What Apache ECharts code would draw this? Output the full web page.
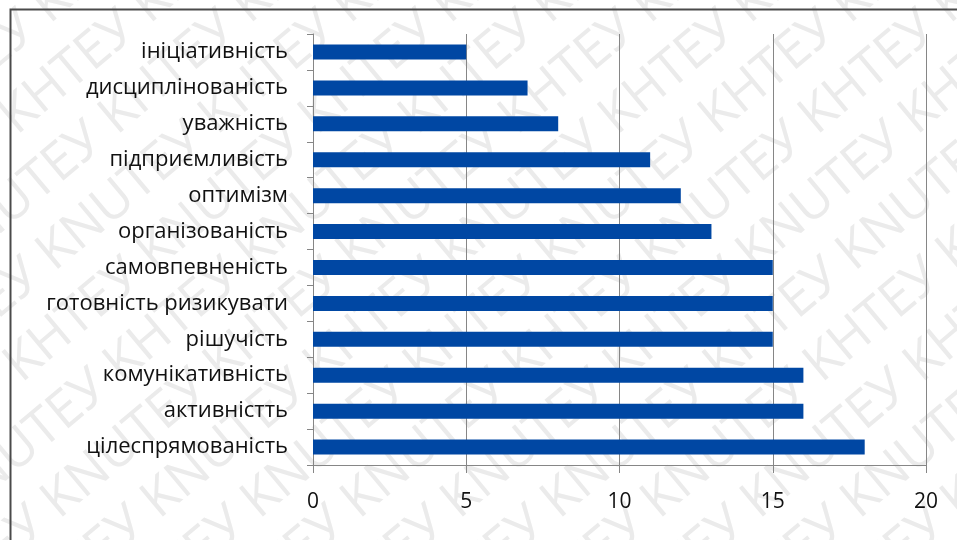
<!DOCTYPE html>
<html>
<head>
<meta charset="utf-8">
<script src="https://cdn.jsdelivr.net/npm/echarts@6/dist/echarts.min.js"></script>
<style>
html, body { margin: 0; padding: 0; background: #fff; }
#chart { width: 957px; height: 540px; }
</style>
</head>
<body>
<div id="chart"></div>
<script>
const categories = [
    'ініціативність',
    'дисциплінованість',
    'уважність',
    'підприємливість',
    'оптимізм',
    'організованість',
    'самовпевненість',
    'готовність ризикувати',
    'рішучість',
    'комунікативність',
    'активністть',
    'цілеспрямованість'
];
const values = [5, 7, 8, 11, 12, 13, 15, 15, 15, 16, 16, 18];
const xTicks = [0, 5, 10, 15, 20];

// diagonal watermark behind the chart, built from short pieces
const wmText = 'KHTEУ KNUTEУ ';
const wmFont = '52px "Open Sans"';
const ctx = document.createElement('canvas').getContext('2d');
ctx.font = wmFont;
const segLen = ctx.measureText(wmText).width;
const ang = Math.PI * 40 / 180;
const ux = Math.cos(ang), uy = -Math.sin(ang);
const watermark = [];
for (let r = -12; r < 14; r++) {
    const x0 = r * 100;
    for (let k = -3; k < 6; k++) {
        const x = x0 + k * segLen * ux;
        const y = 600 + k * segLen * uy;
        if (x < -500 || x > 1000 || y < -100 || y > 1000) continue;
        watermark.push({
            type: 'text',
            x: x,
            y: y,
            rotation: ang,
            silent: true,
            z: -10,
            style: { text: wmText, fill: '#ebebeb', font: wmFont }
        });
    }
}

const chart = echarts.init(document.getElementById('chart'));
chart.setOption({
    backgroundColor: '#fff',
    animation: false,
    textStyle: { fontFamily: '"Open Sans", sans-serif' },
    graphic: watermark.concat([{
        type: 'rect',
        left: 8,
        top: 7,
        shape: { width: 1000, height: 600 },
        silent: true,
        style: { fill: 'none', stroke: '#4a4a4a', lineWidth: 2 }
    }]),
    grid: {
        left: 313,
        right: 31,
        top: 34,
        bottom: 75
    },
    xAxis: {
        type: 'value',
        min: 0,
        max: 20,
        interval: 5,
        axisLine: { show: true, lineStyle: { color: '#868686', width: 1 } },
        axisTick: { show: true, length: 8, lineStyle: { color: '#868686' } },
        axisLabel: {
            margin: 27,
            color: '#111',
            fontSize: 21,
            formatter: v => xTicks.indexOf(v) >= 0 ? String(v) : ''
        },
        splitLine: { show: true, lineStyle: { color: '#868686', width: 1 } }
    },
    yAxis: {
        type: 'category',
        data: categories,
        inverse: true,
        axisLine: { show: true, lineStyle: { color: '#868686', width: 1 } },
        axisTick: { show: true, length: 6, lineStyle: { color: '#868686' } },
        axisLabel: {
            margin: 25,
            color: '#111',
            fontSize: 22
        },
        splitLine: { show: false }
    },
    series: [
        {
            type: 'bar',
            data: values,
            barWidth: 15,
            itemStyle: { color: '#0047a3' }
        }
    ]
});
</script>
</body>
</html>
